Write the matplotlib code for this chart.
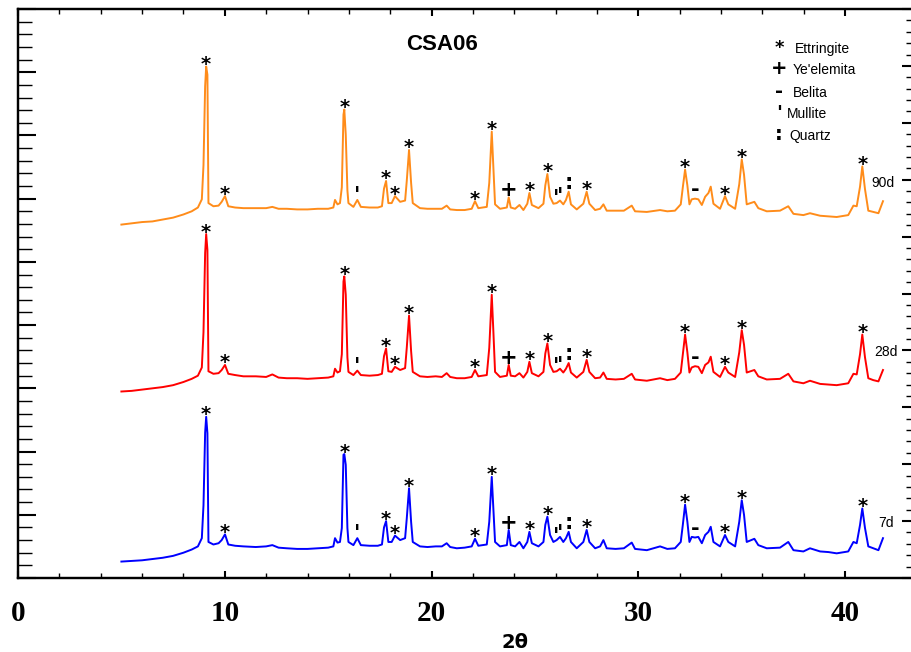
import numpy as np
import matplotlib.pyplot as plt
from matplotlib.ticker import MultipleLocator, FixedLocator

# 2theta positions (degrees)
two_theta = [5.0, 5.5, 6.0, 6.5, 7.0, 7.5, 8.0, 8.4, 8.7, 8.89,
             8.97, 9.05, 9.10, 9.16, 9.21, 9.45, 9.70, 9.85, 10.01, 10.17,
             10.5, 10.9, 11.5, 12.0, 12.3, 12.6, 13.0, 13.5, 14.0, 14.5,
             15.0, 15.25, 15.33, 15.45, 15.57, 15.66, 15.74, 15.78, 15.85, 15.93,
             15.98, 16.22, 16.41, 16.58, 17.0, 17.4, 17.6, 17.7, 17.8, 17.91,
             18.07, 18.23, 18.48, 18.72, 18.8, 18.91, 19.01, 19.09, 19.44, 19.8,
             20.2, 20.5, 20.73, 20.9, 21.22, 21.6, 21.94, 22.10, 22.26, 22.67,
             22.79, 22.91, 22.99, 23.07, 23.31, 23.64, 23.73, 23.83, 24.04, 24.25,
             24.44, 24.63, 24.73, 24.85, 25.17, 25.41, 25.50, 25.60, 25.73, 25.89,
             26.05, 26.21, 26.37, 26.50, 26.63, 26.74, 27.02, 27.34, 27.50, 27.63,
             27.91, 28.15, 28.31, 28.47, 28.9, 29.3, 29.68, 29.84, 30.41, 31.05,
             31.4, 31.77, 32.05, 32.15, 32.26, 32.37, 32.47, 32.58, 32.74, 32.90,
             33.07, 33.23, 33.39, 33.50, 33.63, 33.95, 34.19, 34.35, 34.68, 34.88,
             35.00, 35.11, 35.24, 35.61, 35.80, 36.21, 36.85, 37.25, 37.50, 37.98,
             38.30, 38.79, 39.2, 39.59, 40.15, 40.40, 40.56, 40.72, 40.83, 40.96,
             41.12, 41.36, 41.61, 41.83]

# intensities (arbitrary units)
i_7d = [0.26, 0.27, 0.28, 0.30, 0.32, 0.35, 0.40, 0.45, 0.50, 0.63,
        1.15, 2.30, 2.55, 2.29, 0.57, 0.53, 0.55, 0.60, 0.69, 0.53,
        0.51, 0.50, 0.49, 0.50, 0.52, 0.48, 0.47, 0.46, 0.46, 0.47,
        0.48, 0.50, 0.63, 0.56, 0.57, 0.79, 1.95, 1.96, 1.79, 0.79,
        0.57, 0.52, 0.63, 0.52, 0.51, 0.51, 0.53, 0.80, 0.90, 0.57,
        0.57, 0.67, 0.60, 0.63, 0.94, 1.42, 0.89, 0.57, 0.50, 0.49,
        0.50, 0.50, 0.55, 0.49, 0.47, 0.48, 0.50, 0.62, 0.51, 0.53,
        0.89, 1.60, 1.10, 0.57, 0.50, 0.52, 0.76, 0.52, 0.50, 0.57,
        0.47, 0.57, 0.73, 0.55, 0.50, 0.57, 0.84, 0.97, 0.68, 0.57,
        0.60, 0.65, 0.57, 0.63, 0.73, 0.57, 0.47, 0.57, 0.76, 0.57,
        0.47, 0.50, 0.60, 0.47, 0.46, 0.47, 0.56, 0.46, 0.44, 0.50,
        0.46, 0.47, 0.57, 0.84, 1.16, 0.89, 0.57, 0.65, 0.64, 0.65,
        0.55, 0.68, 0.73, 0.81, 0.57, 0.50, 0.68, 0.57, 0.50, 0.89,
        1.23, 1.00, 0.57, 0.62, 0.52, 0.47, 0.48, 0.57, 0.44, 0.42,
        0.47, 0.42, 0.41, 0.39, 0.42, 0.57, 0.55, 0.84, 1.10, 0.79,
        0.50, 0.47, 0.44, 0.63]
i_28d = [0.26, 0.27, 0.29, 0.31, 0.33, 0.36, 0.41, 0.46, 0.51, 0.64,
         1.20, 2.45, 2.75, 2.50, 0.58, 0.54, 0.55, 0.60, 0.68, 0.54,
         0.52, 0.50, 0.50, 0.49, 0.53, 0.48, 0.47, 0.47, 0.46, 0.47,
         0.48, 0.50, 0.62, 0.56, 0.58, 0.85, 2.00, 2.08, 1.79, 0.80,
         0.57, 0.52, 0.59, 0.52, 0.51, 0.52, 0.54, 0.82, 0.94, 0.58,
         0.57, 0.65, 0.60, 0.63, 0.95, 1.46, 0.90, 0.57, 0.50, 0.49,
         0.50, 0.49, 0.55, 0.49, 0.47, 0.47, 0.49, 0.60, 0.50, 0.52,
         0.95, 1.79, 1.20, 0.57, 0.49, 0.51, 0.68, 0.51, 0.50, 0.55,
         0.48, 0.57, 0.73, 0.55, 0.50, 0.57, 0.86, 1.02, 0.68, 0.57,
         0.58, 0.62, 0.56, 0.62, 0.71, 0.56, 0.48, 0.57, 0.76, 0.57,
         0.47, 0.48, 0.56, 0.46, 0.45, 0.46, 0.54, 0.45, 0.43, 0.47,
         0.44, 0.46, 0.56, 0.85, 1.16, 0.88, 0.56, 0.64, 0.66, 0.65,
         0.55, 0.68, 0.72, 0.81, 0.57, 0.49, 0.65, 0.56, 0.49, 0.88,
         1.23, 1.00, 0.56, 0.60, 0.50, 0.45, 0.46, 0.54, 0.42, 0.39,
         0.43, 0.38, 0.37, 0.36, 0.39, 0.54, 0.53, 0.85, 1.16, 0.80,
         0.47, 0.44, 0.42, 0.60]
i_90d = [0.26, 0.28, 0.30, 0.31, 0.34, 0.37, 0.42, 0.47, 0.53, 0.66,
         1.20, 2.45, 2.76, 2.63, 0.60, 0.55, 0.56, 0.62, 0.71, 0.55,
         0.53, 0.52, 0.52, 0.52, 0.54, 0.51, 0.51, 0.50, 0.50, 0.51,
         0.51, 0.53, 0.65, 0.58, 0.60, 0.85, 2.00, 2.08, 1.68, 0.80,
         0.60, 0.54, 0.65, 0.54, 0.53, 0.53, 0.55, 0.83, 0.95, 0.60,
         0.60, 0.71, 0.62, 0.64, 0.95, 1.44, 0.92, 0.60, 0.52, 0.51,
         0.51, 0.51, 0.56, 0.50, 0.49, 0.49, 0.51, 0.63, 0.52, 0.54,
         0.92, 1.73, 1.15, 0.58, 0.51, 0.53, 0.69, 0.53, 0.51, 0.57,
         0.49, 0.59, 0.76, 0.57, 0.52, 0.59, 0.88, 1.06, 0.70, 0.59,
         0.60, 0.64, 0.58, 0.65, 0.78, 0.58, 0.50, 0.59, 0.78, 0.59,
         0.49, 0.51, 0.58, 0.48, 0.48, 0.48, 0.56, 0.47, 0.46, 0.49,
         0.47, 0.48, 0.58, 0.85, 1.13, 0.88, 0.58, 0.66, 0.67, 0.66,
         0.57, 0.70, 0.76, 0.86, 0.59, 0.51, 0.71, 0.58, 0.51, 0.90,
         1.29, 1.05, 0.58, 0.62, 0.52, 0.47, 0.48, 0.55, 0.43, 0.41,
         0.44, 0.40, 0.39, 0.38, 0.41, 0.56, 0.55, 0.86, 1.18, 0.82,
         0.48, 0.46, 0.44, 0.63]

ages = ['7d', '28d', '90d']

# phase peak positions (2theta)
ettringite = [9.1, 10.01, 15.78, 17.8, 18.23, 18.91, 22.1, 22.91, 24.73,
              25.6, 27.5, 32.26, 34.19, 35.0, 40.83]
yeelimite = [23.73]
belite = [32.77]
mullite = [16.41, 26.02, 26.24]
quartz = [26.63]

legend_names = ['Ettringite', "Ye'elemita", 'Belita', 'Mullite', 'Quartz']
legend_syms = ['*', '+', '-', "'", ':']

W, H = 911, 652
fig = plt.figure(figsize=(W / 100, H / 100), dpi=100)
ax = fig.add_axes([18 / W, 74 / H, 902 / W, 569 / H])

colors = ['#0000ff', '#ff0000', '#ff8c1a']
shift = [0.0, 2.69, 5.33]   # vertical stacking of the patterns
label_xy = [(41.6, 0.87), (41.4, 3.58), (41.25, 6.25)]

# symbol -> (fontsize, vertical offset in points)
sym_style = {'*': (14, -2.5), '+': (15, 1), '-': (15, 2), "'": (15, -1.5), ':': (15, 2)}
marks = [('*', ettringite), ('+', yeelimite), ('-', belite), ("'", mullite), (':', quartz)]

for vals, col, off, age, (lx, ly) in zip([i_7d, i_28d, i_90d], colors, shift, ages, label_xy):
    y = np.array(vals) + off
    ax.plot(two_theta, y, color=col, lw=1.4)
    for sym, xs in marks:
        fs, dy = sym_style[sym]
        for xv in xs:
            yv = np.interp(xv, two_theta, y)
            ax.annotate(sym, (xv, yv), xytext=(0, dy), textcoords='offset points',
                        ha='center', va='baseline', fontsize=fs, fontweight='bold',
                        family='DejaVu Sans')
    ax.text(lx, ly, age, fontsize=10, family='Liberation Sans', va='center', ha='left')

ax.set_xlim(0, 43.62)
ax.set_ylim(0, 9)
ax.xaxis.set_major_locator(MultipleLocator(10))
ax.xaxis.set_minor_locator(FixedLocator([v for v in range(2, 40, 2) if v % 10]))
ax.yaxis.set_major_locator(MultipleLocator(1))
ax.yaxis.set_minor_locator(MultipleLocator(0.2))
ax.tick_params(axis='x', which='both', direction='in', top=True, bottom=True, width=1.5)
ax.tick_params(axis='x', which='major', length=5, pad=16)
ax.tick_params(axis='x', which='minor', length=3.6, width=1.0)
ax.tick_params(axis='y', which='both', direction='in', left=True, right=False,
               labelleft=False)
ax.tick_params(axis='y', which='major', length=13, width=1.5)
ax.tick_params(axis='y', which='minor', length=10, width=1.0)
for lab in ax.get_xticklabels():
    lab.set_fontfamily('Liberation Serif')
    lab.set_fontweight('bold')
    lab.set_fontsize(21)

ax2 = ax.twinx()
ax2.set_ylim(0, 10)
ax2.yaxis.set_major_locator(MultipleLocator(1))
ax2.yaxis.set_minor_locator(MultipleLocator(0.2))
ax2.tick_params(axis='y', which='both', direction='in', labelright=False)
ax2.tick_params(axis='y', which='major', length=13, width=1.5)
ax2.tick_params(axis='y', which='minor', length=10, width=1.0)

for a in (ax, ax2):
    for sp in a.spines.values():
        sp.set_linewidth(1.6)

fig.text(442 / W, 1 - 45 / H, 'CSA06', fontsize=16, fontweight='bold',
         family='Liberation Sans', ha='center', va='center')
fig.text(515 / W, 1 - 642 / H, '2θ', fontsize=14, fontweight='bold',
         family='DejaVu Sans', ha='center', va='center')

# phase key
row_base = [52.5, 74.5, 97, 118.5, 140]
name_x = [795, 793, 793, 787, 789]
for sym, name, yb, nx in zip(legend_syms, legend_names, row_base, name_x):
    fs, _ = sym_style[sym]
    fig.text(779 / W, 1 - yb / H, sym, fontsize=fs - 1, fontweight='bold',
             family='DejaVu Sans', ha='center', va='baseline')
    fig.text(nx / W, 1 - yb / H, name, fontsize=10, family='Liberation Sans',
             ha='left', va='baseline')

fig.savefig('out.png', dpi=100)
